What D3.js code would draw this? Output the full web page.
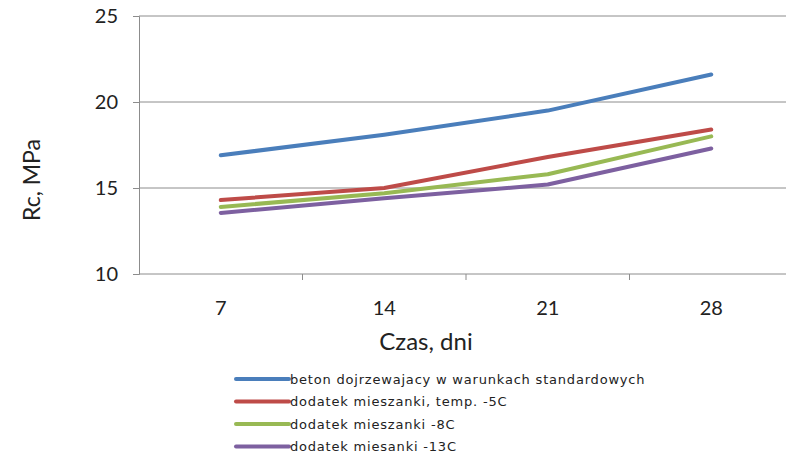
<!DOCTYPE html>
<meta charset="utf-8">
<head>
    <title>Rc vs czas</title>
    <script src="https://d3js.org/d3.v7.min.js"></script>
    <style>
        body { margin: 0; background: #fff; }
        svg { display: block; }
        .axis text { font-family: "Lato", "Liberation Sans", sans-serif; fill: #222; }
        .legend text { font-family: "DejaVu Sans", sans-serif; fill: #222; }
    </style>
</head>
<body>
<div id="chart"></div>

<script>
    // data
    var days = ["7", "14", "21", "28"];
    var seriesNames = [
        "beton dojrzewajacy w warunkach standardowych",
        "dodatek mieszanki, temp. -5C",
        "dodatek mieszanki -8C",
        "dodatek miesanki -13C"
    ];
    var standard = [16.9, 18.1, 19.5, 21.6];
    var temp5 = [14.3, 15.0, 16.8, 18.4];
    var temp8 = [13.9, 14.7, 15.8, 18.0];
    var temp13 = [13.55, 14.4, 15.2, 17.3];
    var yTicks = [10, 15, 20, 25];
    var colors = ["#4a7ebb", "#be4b48", "#98b954", "#7d60a0"];

    var allSeries = [standard, temp5, temp8, temp13];

    var width = 786, height = 454;
    var margin = {top: 16, left: 139};
    var plotW = 654, plotH = 258;

    var svg = d3.select("#chart")
        .append("svg")
        .attr("width", width)
        .attr("height", height);

    var g = svg.append("g")
        .attr("transform", "translate(" + margin.left + "," + margin.top + ")");

    var x = d3.scaleBand()
        .domain(days)
        .range([0, plotW]);

    var y = d3.scaleLinear()
        .domain([10, 25])
        .range([plotH, 0]);

    // gridlines
    g.selectAll(".grid")
        .data(yTicks.slice(1))
        .enter()
        .append("line")
        .attr("x1", 0)
        .attr("x2", plotW)
        .attr("y1", function (d) { return y(d); })
        .attr("y2", function (d) { return y(d); })
        .style("stroke", "#8c8c8c")
        .style("stroke-width", 1);

    // y axis
    var yAxis = g.append("g")
        .attr("class", "axis")
        .call(d3.axisLeft(y).tickValues(yTicks).tickSize(6).tickPadding(15));
    yAxis.selectAll("path, line").style("stroke", "#8c8c8c");
    yAxis.selectAll("text").style("font-size", "20px");

    // x axis, ticks between categories
    var xAxisG = g.append("g")
        .attr("class", "axis")
        .attr("transform", "translate(0," + plotH + ")");
    xAxisG.append("line")
        .attr("x1", 0).attr("x2", plotW)
        .style("stroke", "#8c8c8c");
    xAxisG.selectAll(".tick")
        .data(days)
        .enter()
        .append("line")
        .attr("x1", function (d) { return x(d) + x.bandwidth(); })
        .attr("x2", function (d) { return x(d) + x.bandwidth(); })
        .attr("y1", 0).attr("y2", 6)
        .style("stroke", "#8c8c8c");
    xAxisG.selectAll("text")
        .data(days)
        .enter()
        .append("text")
        .attr("x", function (d) { return x(d) + x.bandwidth() / 2; })
        .attr("y", 41)
        .attr("text-anchor", "middle")
        .style("font-size", "20px")
        .text(function (d) { return d; });

    // axis titles
    svg.append("text")
        .attr("x", 426)
        .attr("y", 350)
        .attr("text-anchor", "middle")
        .style("font-family", "Lato, sans-serif")
        .style("font-size", "24px")
        .style("fill", "#222")
        .text("Czas, dni");

    svg.append("text")
        .attr("transform", "translate(40,180) rotate(-90)")
        .attr("text-anchor", "middle")
        .style("font-family", "Lato, sans-serif")
        .style("font-size", "23px")
        .style("fill", "#222")
        .text("Rc, MPa");

    // lines
    var line = d3.line()
        .x(function (d, i) { return x(days[i]) + x.bandwidth() / 2; })
        .y(function (d) { return y(d); });

    g.selectAll(".series")
        .data(allSeries)
        .enter()
        .append("path")
        .attr("d", line)
        .style("fill", "none")
        .style("stroke", function (d, i) { return colors[i]; })
        .style("stroke-width", 4)
        .style("stroke-linecap", "round")
        .style("stroke-linejoin", "round");

    // legend
    var legend = svg.append("g")
        .attr("class", "legend")
        .attr("transform", "translate(236,379)");

    var row = legend.selectAll("g")
        .data(seriesNames)
        .enter()
        .append("g")
        .attr("transform", function (d, i) { return "translate(0," + (i * 22.5) + ")"; });

    row.append("line")
        .attr("x1", 0).attr("x2", 53)
        .style("stroke", function (d, i) { return colors[i]; })
        .style("stroke-width", 4)
        .style("stroke-linecap", "round");

    row.append("text")
        .attr("x", 54)
        .attr("dy", "0.35em")
        .style("font-size", "13px")
        .style("letter-spacing", "0.8px")
        .text(function (d) { return d; });
</script>
</body>
